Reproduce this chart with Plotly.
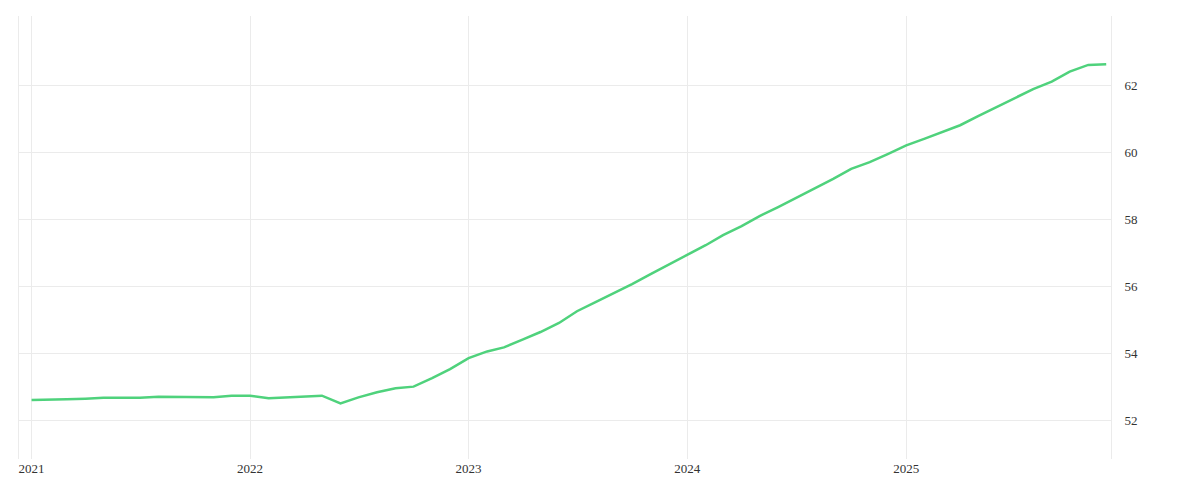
import plotly.graph_objects as go
import pandas as pd

dates = pd.date_range("2021-01-01", periods=60, freq="MS")
values = [52.6,52.6,52.62,52.64,52.67,52.67,52.67,52.7,52.7,52.7,52.68,52.73,
          52.73,52.65,52.67,52.7,52.73,52.5,52.68,52.83,52.95,53.0,53.25,53.52,
          53.85,54.05,54.17,54.4,54.63,54.9,55.25,55.52,55.79,56.06,56.36,56.63,
          56.93,57.22,57.52,57.79,58.09,58.36,58.63,58.93,59.2,59.5,59.7,59.94,
          60.2,60.4,60.6,60.8,61.07,61.34,61.6,61.88,62.1,62.4,62.6,62.62]
yticks = [52,54,56,58,60,62]

fig = go.Figure(go.Scatter(x=dates, y=values, mode="lines",
                           line=dict(color="#4fd27c", width=2.5), hoverinfo="skip"))
fig.update_layout(
    width=1200, height=500, margin=dict(l=11, r=97, t=8, b=49),
    paper_bgcolor="white", plot_bgcolor="white", showlegend=False,
    font=dict(family="Liberation Serif", size=13, color="#333"),
)
fig.update_xaxes(range=["2020-12-11", "2025-12-09"], dtick="M12", tickformat="%Y",
                 showgrid=True, gridcolor="#ebebeb", showline=False, zeroline=False,
                 ticks="", tickfont=dict(size=13))
fig.update_yaxes(side="right", range=[50.84, 64.06], tickvals=yticks,
                 showgrid=True, gridcolor="#ebebeb", zeroline=False,
                 showline=True, linecolor="#ebebeb", mirror=True, ticks="",
                 ticklabelstandoff=10)
fig.write_html("out.html")
